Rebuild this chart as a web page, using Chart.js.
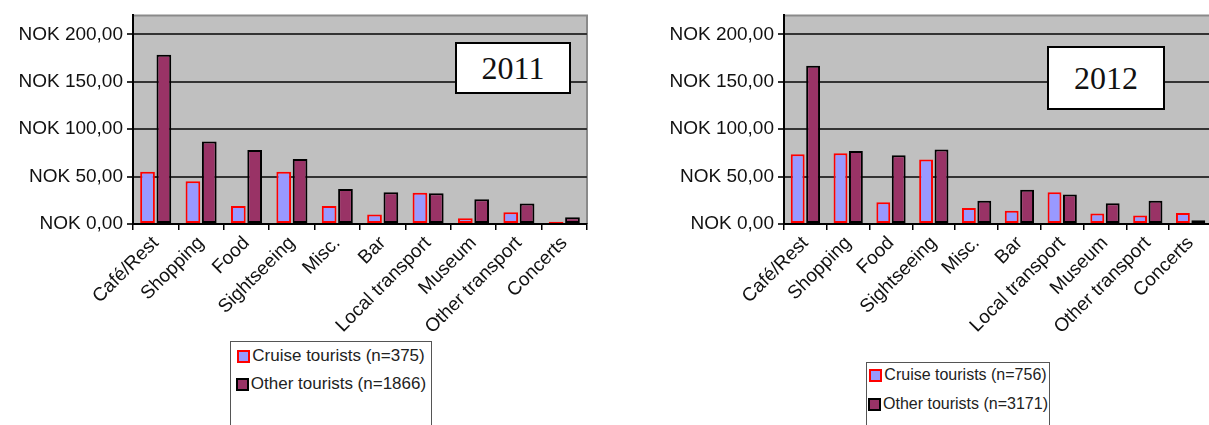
<!DOCTYPE html>
<html>
<head>
<meta charset="utf-8">
<script src="https://cdn.jsdelivr.net/npm/chart.js@4"></script>
<style>
  html, body { margin: 0; padding: 0; background: #fff; overflow: hidden; }
  body { width: 1209px; height: 425px; position: relative; }
  canvas { position: absolute; top: 0; }
  .year { position: absolute; background: #fff; border: 2px solid #000; box-sizing: border-box;
          font-family: "Liberation Serif", serif; font-size: 32px; color: #111;
          display: flex; align-items: center; justify-content: center; }
  .legend { position: absolute; border: 1px solid #555; border-bottom: none; background: #fff;
            box-sizing: border-box; font-family: "Liberation Sans", Arial, sans-serif; color: #222; }
  .legend .row { position: absolute; left: 0; right: 0; display: flex; align-items: center; white-space: nowrap; }
  .legend .box { width: 9px; height: 9px; border: 2px solid; margin-right: 2px; }
</style>
</head>
<body>
<canvas id="c2011" width="600" height="425" style="left:0"></canvas>
<canvas id="c2012" width="615" height="425" style="left:600px"></canvas>
<div class="year" style="left:455px;top:42px;width:116px;height:52px">2011</div>
<div class="year" style="left:1047px;top:46px;width:118px;height:64px">2012</div>
<div class="legend" id="leg2011" style="left:230px;top:341px;width:202px;height:90px;font-size:17px"></div>
<div class="legend" id="leg2012" style="left:866px;top:362px;width:184px;height:70px;font-size:16px"></div>
<script>
// spending categories
var categories = ['Café/Rest', 'Shopping', 'Food', 'Sightseeing', 'Misc.', 'Bar',
  'Local transport', 'Museum', 'Other transport', 'Concerts'];

// NOK per person
var cruise2011 = [55, 45, 19, 55, 19, 10, 33, 6, 12.5, 2.5];
var other2011 = [178.5, 87, 78, 68.5, 37, 33.5, 32.5, 26, 21.5, 7];
var cruise2012 = [73.5, 74.5, 23, 68, 17, 14, 33.5, 11, 9, 11.5];
var other2012 = [167, 77, 72.5, 78.5, 24.5, 36, 31, 22, 24.5, 4];

var yTicks = [0, 50, 100, 150, 200];
var yMax = 220;

var plotBg = {
  id: 'plotBg',
  beforeDraw: function (chart) {
    var a = chart.chartArea, ctx = chart.ctx;
    ctx.save();
    ctx.fillStyle = '#c0c0c0';
    ctx.fillRect(a.left, a.top, a.right - a.left, a.bottom - a.top);
    ctx.strokeStyle = '#8a8a8a';
    ctx.lineWidth = 2;
    ctx.beginPath();
    ctx.moveTo(a.left, a.top);
    ctx.lineTo(a.right, a.top);
    ctx.lineTo(a.right, a.bottom);
    ctx.stroke();
    ctx.restore();
  }
};

function makeChart(id, cruise, other, nCruise, nOther, axisW, padRight) {
  return new Chart(document.getElementById(id), {
    type: 'bar',
    data: {
      labels: categories,
      datasets: [{
        label: 'Cruise tourists (n=' + nCruise + ')',
        data: cruise,
        backgroundColor: '#9999ff',
        borderColor: '#ff0000',
        borderWidth: 2,
        borderSkipped: false,
        categoryPercentage: 0.72,
        barPercentage: 0.9
      }, {
        label: 'Other tourists (n=' + nOther + ')',
        data: other,
        backgroundColor: '#993366',
        borderColor: '#000000',
        borderWidth: 2,
        borderSkipped: false,
        categoryPercentage: 0.72,
        barPercentage: 0.9
      }]
    },
    options: {
      responsive: false,
      animation: false,
      layout: { padding: { left: 0, top: 12, right: padRight, bottom: 0 } },
      plugins: { legend: { display: false }, tooltip: { enabled: false } },
      scales: {
        x: {
          grid: { offset: true, drawOnChartArea: false, color: '#000', lineWidth: 1.5, tickLength: 6 },
          border: { color: '#000', width: 2 },
          ticks: {
            maxRotation: 45, minRotation: 45, padding: 2, color: '#111',
            font: { family: '"Liberation Sans", Arial, sans-serif', size: 19 }
          },
          afterFit: function (s) { s.height = 425 - 224; }
        },
        y: {
          min: 0, max: yMax,
          afterBuildTicks: function (s) {
            s.ticks = yTicks.map(function (v) { return { value: v }; });
          },
          grid: { color: '#333', lineWidth: 2, tickLength: 6 },
          border: { color: '#000', width: 2 },
          ticks: {
            padding: 4, color: '#111',
            font: { family: '"Liberation Sans", Arial, sans-serif', size: 19 },
            callback: function (v) { return 'NOK ' + Number(v).toFixed(2).replace('.', ','); }
          },
          afterFit: function (s) { s.width = axisW; }
        }
      }
    },
    plugins: [plotBg]
  });
}

function makeLegend(el, chart, firstRowTop, gap) {
  chart.data.datasets.forEach(function (ds, i) {
    var row = document.createElement('div');
    row.className = 'row';
    row.style.top = (firstRowTop + i * gap) + 'px';
    row.style.justifyContent = 'center';
    var box = document.createElement('span');
    box.className = 'box';
    box.style.background = ds.backgroundColor;
    box.style.borderColor = ds.borderColor;
    var txt = document.createElement('span');
    txt.textContent = ds.label;
    row.appendChild(box);
    row.appendChild(txt);
    el.appendChild(row);
  });
}

var ch1 = makeChart('c2011', cruise2011, other2011, 375, 1866, 133, 13);
var ch2 = makeChart('c2012', cruise2012, other2012, 756, 3171, 184, 3);
makeLegend(document.getElementById('leg2011'), ch1, 4, 28);
makeLegend(document.getElementById('leg2012'), ch2, 3, 29);
</script>
</body>
</html>
